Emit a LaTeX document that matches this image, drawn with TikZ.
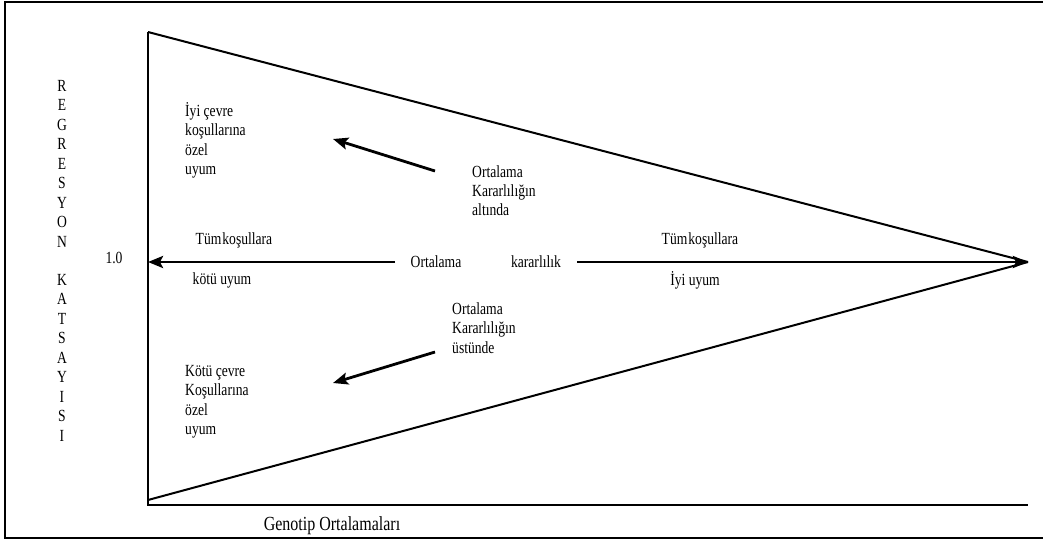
\documentclass[tikz,border=0pt]{standalone}
\usepackage{fontspec}
\setmainfont[FakeStretch=0.8]{Liberation Serif}
\usetikzlibrary{arrows.meta}
\tikzset{
  txt/.style={inner sep=0pt, font=\fontsize{17}{19.5}\selectfont},
  bigtxt/.style={inner sep=0pt, font=\fontsize{20}{22}\selectfont},
  frameline/.style={line width=2pt},
  axisline/.style={line width=2.4pt},
  sideline/.style={line width=2pt},
  arr/.style={line width=2.8pt, -{Stealth[length=15pt,width=12pt,inset=3pt]}},
}
\begin{document}
\begin{tikzpicture}[x=1pt,y=-1pt]
\useasboundingbox (0,0) rectangle (1043,539);
% frame
\draw[frameline] (5,1.5) rectangle (1044,537.5);
% key points
\coordinate (top) at (148,32);
\coordinate (orig) at (148,505);
\coordinate (xend) at (1028,505);
\coordinate (bot) at (148,500);
\coordinate (tip) at (1028,262);
\coordinate (ymid) at (148,262);
% axes
\draw[axisline] (top) -- (orig) -- (xend);
% triangle sides
\draw[sideline] (top) -- (tip);
\draw[sideline] (bot) -- (tip);
% vertical label
\foreach \l [count=\i from 0] in {R,E,G,R,E,S,Y,O,N}
  \node[txt, anchor=base] (va\i) at (62,91+19.5*\i) {\l};
\foreach \l [count=\i from 0] in {K,A,T,S,A,Y,I,S,I}
  \node[txt, anchor=base] (vb\i) at (62,285+19.5*\i) {\l};
% 1.0
\node[txt, anchor=base] (one) at (114,263) {1.0};
% upper-left block
\node[txt, anchor=base west] (ul1) at (185,116) {İyi çevre};
\node[txt, anchor=base west] (ul2) at (185,135.5) {koşullarına};
\node[txt, anchor=base west] (ul3) at (185,155) {özel};
\node[txt, anchor=base west] (ul4) at (185,174.5) {uyum};
% lower-left block
\node[txt, anchor=base west] (ll1) at (185,376) {Kötü çevre};
\node[txt, anchor=base west] (ll2) at (185,395.5) {Koşullarına};
\node[txt, anchor=base west] (ll3) at (185,415) {özel};
\node[txt, anchor=base west] (ll4) at (185,434.5) {uyum};
% left labels along arrow
\node[txt, anchor=base] (tkL) at (234,244) {Tüm\hspace{1pt}koşullara};
\node[txt, anchor=base] (kuL) at (222,284) {kötü uyum};
% middle
\node[txt, anchor=base] (ortM) at (436,267) {Ortalama};
\node[txt, anchor=base] (karM) at (536,267) {kararlılık};
% right labels
\node[txt, anchor=base] (tkR) at (700,244) {Tüm\hspace{1pt}koşullara};
\node[txt, anchor=base] (iuR) at (695,285) {İyi uyum};
% upper middle block
\node[txt, anchor=base west] (um1) at (472,177) {Ortalama};
\node[txt, anchor=base west] (um2) at (472,196.5) {Kararlılığın};
\node[txt, anchor=base west] (um3) at (472,215) {altında};
% lower middle block
\node[txt, anchor=base west] (lm1) at (452,314) {Ortalama};
\node[txt, anchor=base west] (lm2) at (452,333.5) {Kararlılığın};
\node[txt, anchor=base west] (lm3) at (452,353) {üstünde};
% x-axis label
\node[bigtxt, anchor=base] (xlab) at (332,530) {Genotip Ortalamaları};
% arrows
\coordinate (aL) at (395,262);
\coordinate (aR) at (577,262);
\coordinate (uT) at (435,171);
\coordinate (uH) at (333,139);
\coordinate (lT) at (435,352);
\coordinate (lH) at (333,383);
\draw[arr] (aL) -- (ymid);
\draw[arr] (aR) -- (tip);
\draw[arr] (uT) -- (uH);
\draw[arr] (lT) -- (lH);
\end{tikzpicture}
\end{document}
